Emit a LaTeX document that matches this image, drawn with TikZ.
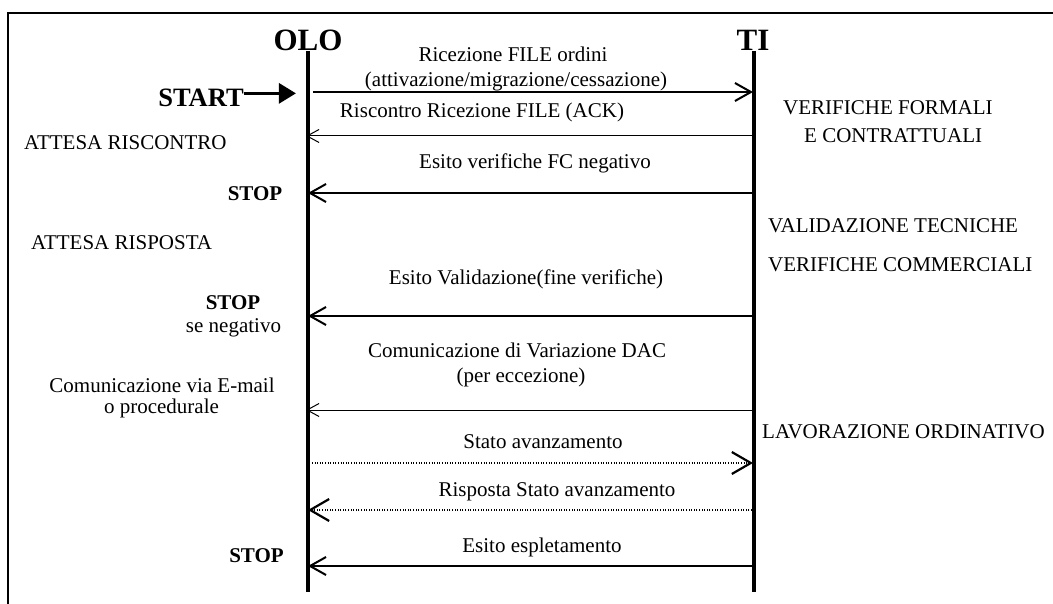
\documentclass[tikz,border=0pt]{standalone}
\usepackage{fontspec}
\setmainfont{Liberation Serif}
\usetikzlibrary{arrows.meta}
\begin{document}
\begin{tikzpicture}[x=1pt, y=-1pt,
		txt/.style={font=\fontsize{21}{25}\selectfont, inner sep=0pt, anchor=base},
		stoptxt/.style={font=\fontsize{21}{25}\selectfont\bfseries, inner sep=0pt, anchor=base},
		actor/.style={font=\fontsize{31}{36}\selectfont\bfseries, inner sep=0pt, anchor=base},
		lifeline/.style={line width=4pt},
		msg/.style={line width=2pt, -{Straight Barb[length=16pt, width=18pt, line width=2pt]}},
		thinmsg/.style={line width=1pt, -{Straight Barb[length=12pt, width=13pt, line width=1pt]}},
		dotmsg/.style={line width=1.3pt, dash pattern=on 1pt off 1.6pt, -{Straight Barb[length=19pt, width=22pt, line width=2.2pt]}}]

		\useasboundingbox (0,0) rectangle (1053,604);
		\draw[line width=2.5pt] (8,610) -- (8,13) -- (1060,13);

		\node[actor](olo) at (308,51){OLO};
		\node[actor](ti) at (753,51){TI};
		\coordinate (oloEnd) at (308,592);
		\coordinate (tiEnd) at (754,592);
		\draw [lifeline] (olo.base) -- (oloEnd);
		\draw [lifeline] ([xshift=1pt]ti.base) -- (tiEnd);

		\coordinate (olo1) at (313,92);   \coordinate (ti1) at (753,92);
		\coordinate (olo2) at (306,136);  \coordinate (ti2) at (752,136);
		\coordinate (olo3) at (308,193);  \coordinate (ti3) at (752,193);
		\coordinate (olo4) at (308,316);  \coordinate (ti4) at (752,316);
		\coordinate (olo5) at (306,410);  \coordinate (ti5) at (752,410);
		\coordinate (olo6) at (312,463);  \coordinate (ti6) at (753,463);
		\coordinate (olo7) at (308,510);  \coordinate (ti7) at (752,510);
		\coordinate (olo8) at (308,566);  \coordinate (ti8) at (752,566);

		\draw [msg] (olo1) -- (ti1);
		\draw [thinmsg] (ti2) -- (olo2);
		\draw [msg] (ti3) -- (olo3);
		\draw [msg] (ti4) -- (olo4);
		\draw [thinmsg] (ti5) -- (olo5);
		\draw [dotmsg] (olo6) -- (ti6);
		\draw [dotmsg] (ti7) -- (olo7);
		\draw [msg] (ti8) -- (olo8);

		\node[txt](recvTop) at (513,62){Ricezione FILE ordini};
		\node[txt](recvBottom) at (516,87){(attivazione/migrazione/cessazione)};
		\node[txt](ackLabel) at (482,118){Riscontro Ricezione FILE (ACK)};
		\node[txt](fcLabel) at (535,169){Esito verifiche FC negativo};
		\node[txt](validLabel) at (526,285){Esito Validazione(fine verifiche)};
		\node[txt](dacTop) at (517,357){Comunicazione di Variazione DAC};
		\node[txt](dacBottom) at (521,382){(per eccezione)};
		\node[txt](statoLabel) at (543,448){Stato avanzamento};
		\node[txt](rispostaLabel) at (557,496){Risposta Stato avanzamento};
		\node[txt](esitoLabel) at (542,552){Esito espletamento};

		\node[actor, font=\fontsize{26.5}{30}\selectfont\bfseries](start) at (201,107){START};
		\draw [line width=3pt, -{Triangle[length=17pt, width=20pt]}] ([yshift=5pt]start.east) -- ++(52,0);

		\node[txt, anchor=base west](attesaRiscontro) at (24,150){ATTESA RISCONTRO};
		\node[stoptxt](stopOne) at (255,201){STOP};
		\node[txt, anchor=base west](attesaRisposta) at (31,250){ATTESA RISPOSTA};
		\node[stoptxt](stopTwo) at (233,310){STOP};
		\node[txt](seNegativo) at (233.5,332){se negativo};
		\node[txt](emailTop) at (162,392){Comunicazione via E-mail};
		\node[txt](emailBottom) at (161.5,413){o procedurale};
		\node[stoptxt](stopThree) at (256.5,562){STOP};

		\node[txt, anchor=base west](verFormali) at (783,115){VERIFICHE FORMALI};
		\node[txt, anchor=base west](contrattuali) at (804,143){E CONTRATTUALI};
		\node[txt, anchor=base west](validTecniche) at (768,233){VALIDAZIONE TECNICHE};
		\node[txt, anchor=base west](verCommerciali) at (768,272){VERIFICHE COMMERCIALI};
		\node[txt, anchor=base west](lavorazione) at (762,438){LAVORAZIONE ORDINATIVO};

	\end{tikzpicture}
\end{document}
